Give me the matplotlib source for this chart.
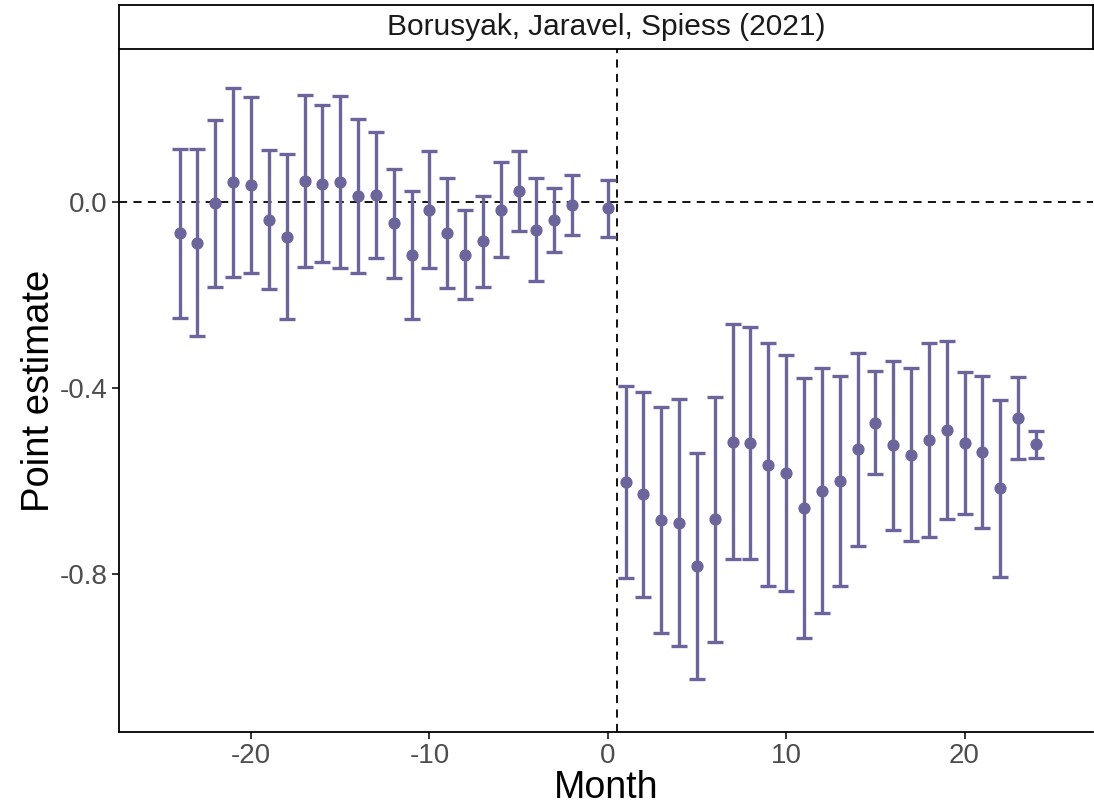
import matplotlib

matplotlib.use("Agg")
import matplotlib.pyplot as plt
import numpy as np

plt.rcParams["font.family"] = ["Liberation Sans", "DejaVu Sans"]
plt.rcParams["axes.unicode_minus"] = False

COLOR = "#6b659b"

months = [-24, -23, -22, -21, -20, -19, -18, -17, -16, -15, -14, -13, -12,
          -11, -10, -9, -8, -7, -6, -5, -4, -3, -2, 0,
          1, 2, 3, 4, 5, 6, 7, 8, 9, 10, 11, 12,
          13, 14, 15, 16, 17, 18, 19, 20, 21, 22, 23, 24]
estimate = [-0.067, -0.088, -0.003, 0.043, 0.037, -0.039, -0.075, 0.045, 0.039, 0.043,
            0.013, 0.016, -0.046, -0.114, -0.017, -0.067, -0.113, -0.084, -0.017, 0.024,
            -0.060, -0.039, -0.007, -0.014,
            -0.602, -0.629, -0.684, -0.691, -0.783, -0.681, -0.516, -0.519, -0.566, -0.584,
            -0.659, -0.622, -0.600, -0.532, -0.476, -0.523, -0.544, -0.511, -0.490, -0.519,
            -0.538, -0.616, -0.465, -0.521]
ci_high = [0.113, 0.113, 0.176, 0.246, 0.226, 0.111, 0.103, 0.229, 0.208, 0.228,
           0.178, 0.151, 0.070, 0.024, 0.110, 0.051, -0.017, 0.013, 0.085, 0.110,
           0.051, 0.029, 0.057, 0.047,
           -0.396, -0.408, -0.440, -0.424, -0.540, -0.419, -0.263, -0.268, -0.304, -0.330,
           -0.379, -0.358, -0.374, -0.325, -0.364, -0.341, -0.358, -0.303, -0.298, -0.366,
           -0.374, -0.427, -0.376, -0.493]
ci_low = [-0.249, -0.288, -0.182, -0.161, -0.152, -0.188, -0.252, -0.139, -0.129, -0.143,
          -0.153, -0.121, -0.163, -0.251, -0.143, -0.186, -0.208, -0.182, -0.118, -0.062,
          -0.171, -0.107, -0.072, -0.075,
          -0.808, -0.849, -0.926, -0.956, -1.025, -0.946, -0.768, -0.768, -0.826, -0.837,
          -0.937, -0.885, -0.827, -0.740, -0.586, -0.706, -0.730, -0.721, -0.682, -0.672,
          -0.702, -0.806, -0.553, -0.550]

x = np.array(months, dtype=float)
y = np.array(estimate)
lo = np.array(ci_low)
hi = np.array(ci_high)

W, H = 1094, 807
fig = plt.figure(figsize=(W / 100, H / 100), dpi=100)
left, right, bottom, top = 119 / W, 1093 / W, 1 - 732 / H, 1 - 49 / H
ax = fig.add_axes([left, bottom, right - left, top - bottom])

ax.axhline(0, color="black", linestyle=(0, (4.5, 3.5)), linewidth=1.3, zorder=1)
ax.axvline(0.5, color="black", linestyle=(0, (4.5, 3.5)), linewidth=1.3, zorder=1)
ax.errorbar(x, y, yerr=[y - lo, hi - y], fmt="o", color=COLOR, ecolor=COLOR,
            elinewidth=2.4, capsize=5.8, capthick=2.4, markersize=7.8, zorder=3)

ax.set_xlim(-27.4, 27.2)
ax.set_ylim(-1.140, 0.329)
ax.set_xticks([-20, -10, 0, 10, 20])
ax.set_yticks([0.0, -0.4, -0.8])
ax.set_yticklabels(["0.0", "-0.4", "-0.8"])
ax.tick_params(labelsize=20, labelcolor="#4d4d4d", color="black", length=5, width=1.1, pad=3)
for side in ["top", "right"]:
    ax.spines[side].set_visible(False)
for side in ["left", "bottom"]:
    ax.spines[side].set_linewidth(1.3)
ax.set_xlabel("Month", fontsize=27, labelpad=1)
ax.set_ylabel("Point estimate", fontsize=27.5, labelpad=2)

strip = fig.add_axes([left, top, right - left, 44 / H])
strip.set_xticks([])
strip.set_yticks([])
for s in strip.spines.values():
    s.set_linewidth(1.3)
strip.text(0.5, 0.5, "Borusyak, Jaravel, Spiess (2021)", ha="center", va="center",
           fontsize=21.5, color="#1a1a1a", transform=strip.transAxes)

fig.savefig("out.png", dpi=100)
plt.close(fig)
